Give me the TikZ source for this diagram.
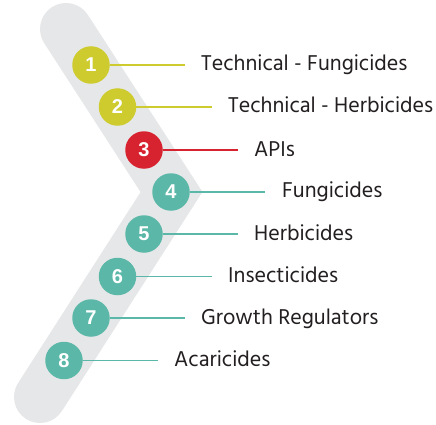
\documentclass[tikz,border=0pt]{standalone}
\usepackage{fontspec}
\setmainfont{Hind Madurai}
\newfontfamily\numfont{Liberation Sans}
\definecolor{bandgray}{HTML}{E6E7E8}
\definecolor{cyel}{HTML}{CDCB2E}
\definecolor{cred}{HTML}{D7232F}
\definecolor{cteal}{HTML}{5BB8A8}
\definecolor{txt}{HTML}{231F20}
\tikzset{
  num/.style={circle, fill=#1, minimum size=37.5pt, inner sep=0pt, text=white, font=\numfont\bfseries\fontsize{20}{20}\selectfont},
  lbl/.style={anchor=base west, text=txt, inner sep=0pt, font=\fontsize{22}{23}\selectfont},
  conn/.style={draw=#1, line width=1.1pt},
}
\begin{document}
\begin{tikzpicture}[x=1pt,y=-1pt]
\useasboundingbox (0,0) rectangle (436,425);
\draw[bandgray, line width=52pt, line cap=round, miter limit=10] (66,29) -- (171.5,192) -- (40,397);
\node[num=cyel] (n1) at (91,65) {1};
\node[num=cyel] (n2) at (117.5,107) {2};
\node[num=cred] (n3) at (144,150) {3};
\node[num=cteal] (n4) at (171,192) {4};
\node[num=cteal] (n5) at (144,234) {5};
\node[num=cteal] (n6) at (117.5,276.5) {6};
\node[num=cteal] (n7) at (91,318) {7};
\node[num=cteal] (n8) at (64,360.5) {8};
\coordinate (e1) at (185,65);
\coordinate (e2) at (212,107);
\coordinate (e3) at (238,150);
\coordinate (e4) at (265,192);
\coordinate (e5) at (238,234);
\coordinate (e6) at (212,276.5);
\coordinate (e7) at (185,318);
\coordinate (e8) at (158,360.5);
\draw[conn=cyel] (n1.east) -- (e1);
\draw[conn=cyel] (n2.east) -- (e2);
\draw[conn=cred] (n3.east) -- (e3);
\draw[conn=cteal] (n4.east) -- (e4);
\draw[conn=cteal] (n5.east) -- (e5);
\draw[conn=cteal] (n6.east) -- (e6);
\draw[conn=cteal] (n7.east) -- (e7);
\draw[conn=cteal] (n8.east) -- (e8);
\node[lbl] (t1) at (201,71) {Technical - Fungicides};
\node[lbl] (t2) at (228,113) {Technical - Herbicides};
\node[lbl] (t3) at (254,156) {APIs};
\node[lbl] (t4) at (282,197.5) {Fungicides};
\node[lbl] (t5) at (254,240) {Herbicides};
\node[lbl] (t6) at (228,282) {Insecticides};
\node[lbl] (t7) at (201,324) {Growth Regulators};
\node[lbl] (t8) at (174,366) {Acaricides};
\end{tikzpicture}
\end{document}
